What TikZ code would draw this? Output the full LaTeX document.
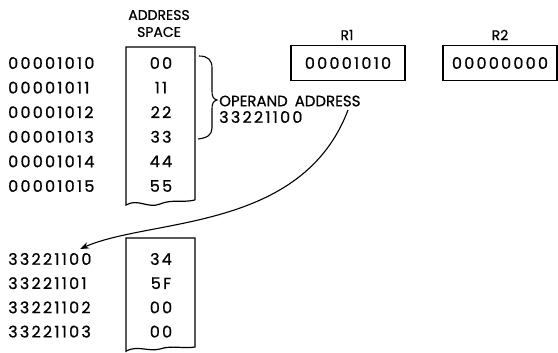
\documentclass[tikz,border=0pt]{standalone}
\usepackage{fontspec}
\newfontfamily\geodig[LetterSpace=14,FakeBold=0.8]{Poppins}
\newfontfamily\geolet[FakeBold=0.8]{Poppins}
\usetikzlibrary{arrows.meta}
\begin{document}
\begin{tikzpicture}[x=1pt,y=-1pt,
  txt/.style={font=\geodig\fontsize{16}{18}\selectfont, inner sep=0pt},
  addr/.style={txt, anchor=west},
  cell/.style={txt, anchor=center},
  word/.style={font=\geolet\fontsize{15}{17}\selectfont, inner sep=0pt},
  head/.style={font=\geolet\fontsize{14}{16}\selectfont, inner sep=0pt},
  boxline/.style={line width=1.2pt},
  conn/.style={line width=1.1pt, -{Stealth[length=9pt,width=6.5pt]}}]
\useasboundingbox (0,0) rectangle (558,353);
% headings
\node[head] (h1) at (159,15) {ADDRESS};
\node[head] (h2) at (159,32) {SPACE};
% top memory box
\draw[boxline] (195,200) -- (195,47) -- (126,47) -- (126,205)
  .. controls (138,198) and (148,209) .. (160,204)
  .. controls (172,199) and (182,203) .. (195,200);
% top rows
\foreach \i/\a/\v in {0/00001010/00,1/00001011/11,2/00001012/22,3/00001013/33,4/00001014/44,5/00001015/55}{
  \node[addr] (a\i) at (8,63+24.6*\i) {\a};
  \node[cell] (v\i) at (161,63+24.6*\i) {\v};
}
% brace
\draw[line width=1.1pt] (199,56) .. controls (208,56) and (212,60) .. (212,68)
  -- (212,91) .. controls (212,96) and (213,99) .. (217,100)
  .. controls (213,101) and (212,104) .. (212,109)
  -- (212,128) .. controls (212,135) and (207,138) .. (198,139);
\node[word, anchor=west] (op) at (219,101) {OPERAND\hspace{7pt}ADDRESS};
\node[txt, anchor=west] (opv) at (219,117) {33221100};
% registers
\node[head] (r1l) at (347,35) {R1};
\node[head] (r2l) at (500,35) {R2};
\node[draw, boxline, minimum width=114pt, minimum height=35pt, txt] (r1) at (348,63) {00001010};
\node[draw, boxline, minimum width=114pt, minimum height=35pt, txt] (r2) at (500,63) {00000000};
% bottom memory box
\draw[boxline] (126,352) -- (126,238) -- (195,238) -- (195,347)
  .. controls (183,349) and (172,345) .. (160,349)
  .. controls (148,352) and (138,345) .. (126,351);
\foreach \i/\a/\v in {0/33221100/34,1/33221101/5F,2/33221102/00,3/33221103/00}{
  \node[addr] (b\i) at (8,259+24.2*\i) {\a};
  \node[cell] (w\i) at (161,259+24.2*\i) {\v};
}
% connector
\coordinate (cs) at (348,110);
\coordinate (ce) at (80,249);
\draw[conn] (cs) .. controls (302,232) and (150,218) .. (ce);
\end{tikzpicture}
\end{document}
